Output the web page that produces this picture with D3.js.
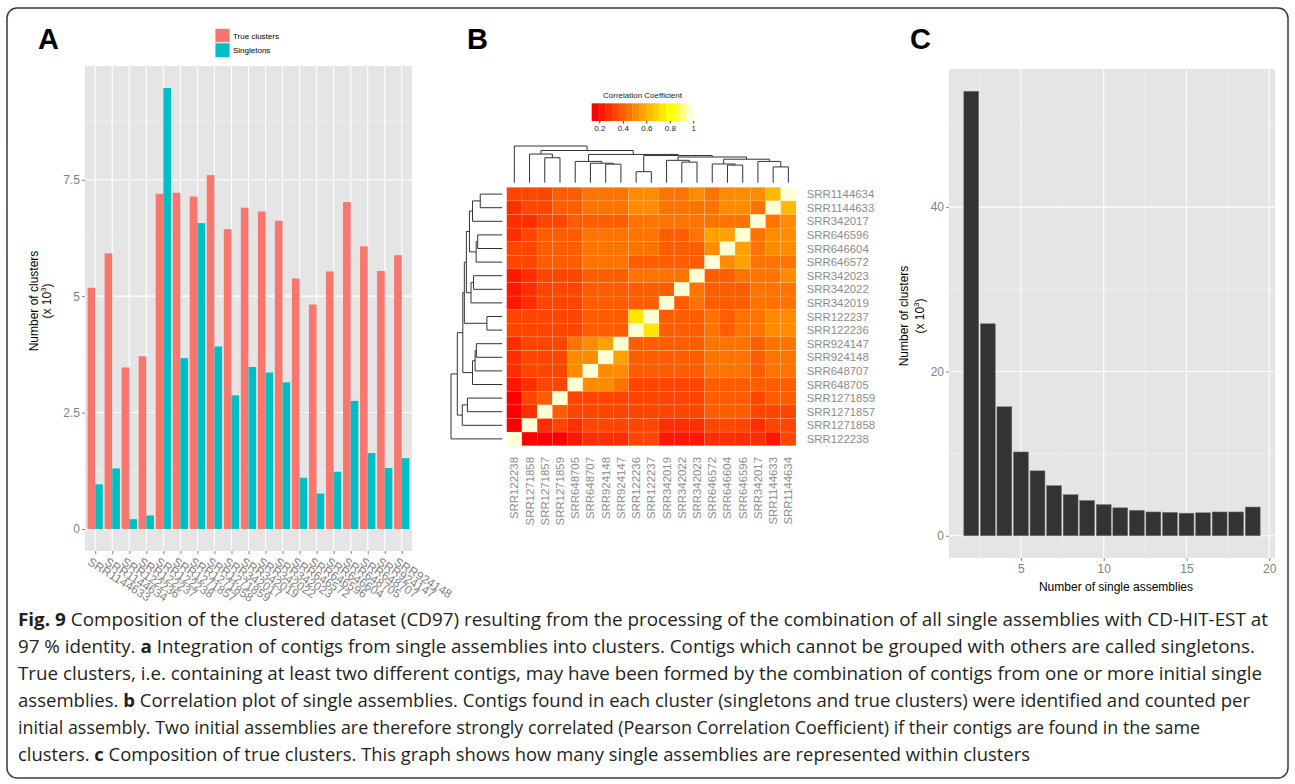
<!DOCTYPE html>
<html><head><meta charset="utf-8">
<script src="https://cdn.jsdelivr.net/npm/d3@7"></script>
<style>body{margin:0;background:#fff} svg{display:block} text{font-family:"Liberation Sans",Arial,sans-serif}</style>
</head><body><svg id="fig" width="1295" height="784"></svg>
<script>
// ---------------- DATA ----------------
// Panel A
const assemblies = ["SRR1144633","SRR1144634","SRR122236","SRR122237","SRR122238","SRR1271857","SRR1271858","SRR1271859","SRR342017","SRR342019","SRR342022","SRR342023","SRR646572","SRR646596","SRR646604","SRR648705","SRR648707","SRR924147","SRR924148"];
const trueClusters = [5.18,5.92,3.47,3.71,7.20,7.22,7.14,7.60,6.44,6.90,6.82,6.62,5.38,4.82,5.53,7.02,6.07,5.54,5.88];
const singletons   = [0.96,1.30,0.21,0.29,9.47,3.67,6.57,3.92,2.87,3.48,3.36,3.15,1.10,0.76,1.23,2.75,1.63,1.31,1.52];
const seriesNames = ["True clusters","Singletons"];
const yTicksA = [0,2.5,5,7.5];

// Panel B
const rowOrder = ["SRR1144634","SRR1144633","SRR342017","SRR646596","SRR646604","SRR646572","SRR342023","SRR342022","SRR342019","SRR122237","SRR122236","SRR924147","SRR924148","SRR648707","SRR648705","SRR1271859","SRR1271857","SRR1271858","SRR122238"];
const colOrder = ["SRR122238","SRR1271858","SRR1271857","SRR1271859","SRR648705","SRR648707","SRR924148","SRR924147","SRR122236","SRR122237","SRR342019","SRR342022","SRR342023","SRR646572","SRR646604","SRR646596","SRR342017","SRR1144633","SRR1144634"];
const corr = [
 [0.34,0.34,0.33,0.39,0.39,0.45,0.45,0.45,0.51,0.51,0.45,0.45,0.51,0.45,0.51,0.51,0.50,0.63,1],
 [0.28,0.33,0.34,0.39,0.39,0.45,0.45,0.45,0.51,0.51,0.45,0.45,0.46,0.45,0.50,0.51,0.45,1,0.63],
 [0.28,0.27,0.33,0.32,0.39,0.39,0.39,0.38,0.45,0.45,0.45,0.45,0.45,0.45,0.45,0.45,1,0.45,0.51],
 [0.29,0.34,0.39,0.39,0.39,0.45,0.45,0.45,0.45,0.45,0.39,0.39,0.45,0.57,0.57,1,0.45,0.51,0.51],
 [0.33,0.34,0.39,0.39,0.39,0.45,0.45,0.45,0.45,0.45,0.39,0.39,0.39,0.51,1,0.57,0.45,0.51,0.51],
 [0.33,0.34,0.39,0.39,0.39,0.45,0.45,0.45,0.39,0.39,0.39,0.39,0.39,1,0.51,0.57,0.45,0.45,0.45],
 [0.22,0.28,0.34,0.34,0.34,0.39,0.39,0.39,0.45,0.45,0.45,0.45,1,0.39,0.39,0.45,0.45,0.45,0.51],
 [0.22,0.28,0.34,0.34,0.34,0.39,0.39,0.39,0.39,0.39,0.39,1,0.45,0.39,0.39,0.39,0.45,0.45,0.45],
 [0.22,0.28,0.34,0.34,0.34,0.39,0.39,0.39,0.39,0.39,1,0.39,0.45,0.39,0.39,0.39,0.45,0.45,0.45],
 [0.34,0.34,0.34,0.34,0.34,0.39,0.39,0.39,0.74,1,0.39,0.39,0.39,0.45,0.39,0.45,0.45,0.51,0.51],
 [0.34,0.34,0.34,0.34,0.34,0.39,0.39,0.39,1,0.74,0.39,0.39,0.39,0.45,0.39,0.45,0.45,0.51,0.51],
 [0.28,0.34,0.34,0.34,0.45,0.51,0.57,1,0.39,0.39,0.39,0.39,0.39,0.45,0.45,0.45,0.39,0.45,0.45],
 [0.28,0.34,0.34,0.34,0.51,0.51,1,0.57,0.39,0.39,0.39,0.39,0.39,0.45,0.45,0.45,0.39,0.45,0.45],
 [0.28,0.34,0.34,0.34,0.51,1,0.51,0.51,0.39,0.39,0.39,0.39,0.39,0.45,0.45,0.45,0.39,0.45,0.45],
 [0.22,0.28,0.34,0.34,1,0.51,0.51,0.45,0.34,0.34,0.34,0.34,0.34,0.39,0.39,0.39,0.39,0.39,0.39],
 [0.16,0.34,0.39,1,0.34,0.34,0.34,0.34,0.34,0.34,0.34,0.34,0.34,0.39,0.39,0.39,0.34,0.39,0.39],
 [0.16,0.28,1,0.39,0.34,0.34,0.34,0.34,0.34,0.34,0.34,0.34,0.34,0.39,0.39,0.39,0.34,0.34,0.34],
 [0.16,1,0.28,0.34,0.28,0.34,0.34,0.34,0.34,0.34,0.28,0.28,0.28,0.34,0.34,0.34,0.28,0.34,0.34],
 [1,0.16,0.16,0.16,0.22,0.28,0.28,0.28,0.34,0.34,0.22,0.22,0.22,0.28,0.28,0.28,0.28,0.22,0.34]
];
// hierarchical merges: [left, right, height (relative to root)]
const dendroMerges = [
 ["SRR924148","SRR924147",0.505],
 ["SRR648707","m0",0.53],
 ["SRR648705","m1",0.58],
 ["SRR122236","SRR122237",0.30],
 ["SRR342022","SRR342023",0.56],
 ["SRR342019","m4",0.61],
 ["SRR646604","SRR646596",0.48],
 ["SRR646572","m6",0.51],
 ["SRR1144633","SRR1144634",0.43],
 ["SRR342017","m8",0.58],
 ["m7","m9",0.64],
 ["m5","m10",0.70],
 ["m3","m11",0.74],
 ["m2","m12",0.77],
 ["SRR1271857","SRR1271859",0.68],
 ["SRR1271858","m14",0.78],
 ["m15","m13",0.877],
 ["SRR122238","m16",1.0]
];
const heatColors = ["#FF0000","#FF1700","#FF2E00","#FF4600","#FF5D00","#FF7400","#FF8B00","#FFA200","#FFB900","#FFD100","#FFE800","#FFFF00","#FFFF2A","#FFFF80","#FFFFD5"];
const keyRange = [0.135,1];
const keyTicks = [0.2,0.4,0.6,0.8,1];

// Panel C
const nAssemblies = [2,3,4,5,6,7,8,9,10,11,12,13,14,15,16,17,18,19];
const nClusters = [54.1,25.8,15.7,10.2,7.9,6.1,5.0,4.3,3.8,3.4,3.1,2.9,2.85,2.75,2.8,2.9,2.9,3.5];
const xTicksC = [5,10,15,20];
const yTicksC = [0,20,40];

const captionLines = [
 [["Fig. 9",true],[" Composition of the clustered dataset (CD97) resulting from the processing of the combination of all single assemblies with CD-HIT-EST at",false]],
 [["97 % identity. ",false],["a",true],[" Integration of contigs from single assemblies into clusters. Contigs which cannot be grouped with others are called singletons.",false]],
 [["True clusters, i.e. containing at least two different contigs, may have been formed by the combination of contigs from one or more initial single",false]],
 [["assemblies. ",false],["b",true],[" Correlation plot of single assemblies. Contigs found in each cluster (singletons and true clusters) were identified and counted per",false]],
 [["initial assembly. Two initial assemblies are therefore strongly correlated (Pearson Correlation Coefficient) if their contigs are found in the same",false]],
 [["clusters. ",false],["c",true],[" Composition of true clusters. This graph shows how many single assemblies are represented within clusters",false]]
];
const captionWidths = [1250,1237,1244,1232,1182,1012];

// ---------------- DRAW ----------------
const svg = d3.select("#fig");
svg.append("rect").attr("x",7).attr("y",8).attr("width",1281).attr("height",770).attr("rx",10)
  .attr("fill","none").attr("stroke","#3a3a3a").attr("stroke-width",1.5);

const GRAY_TXT = "#7f7f7f", PANEL = "#E5E5E5", MINOR = "#F2F2F2";
function letter(t,x,y){svg.append("text").attr("x",x).attr("y",y).attr("font-size",29).attr("font-weight","bold").attr("fill","#000").text(t);}
letter("A",38,49); letter("B",467,49); letter("C",910,49);

// ---- Panel A ----
{
  const L=85,R=412,T=66,B=551;
  const x = d3.scalePoint().domain(assemblies).range([L,R]).padding(0.6);
  const step = x.step(), bw = step*0.45;
  const y = d3.scaleLinear().domain([-0.4735,9.9435]).range([B,T]);
  const g = svg.append("g");
  g.append("rect").attr("x",L).attr("y",T).attr("width",R-L).attr("height",B-T).attr("fill",PANEL);
  const minor = yTicksA.map(d=>d+1.25);
  g.selectAll(".mn").data(minor).join("line").attr("x1",L).attr("x2",R).attr("y1",d=>y(d)).attr("y2",d=>y(d)).attr("stroke",MINOR).attr("stroke-width",0.6);
  g.selectAll(".mj").data(yTicksA).join("line").attr("x1",L).attr("x2",R).attr("y1",d=>y(d)).attr("y2",d=>y(d)).attr("stroke","#fff").attr("stroke-width",1.1);
  g.selectAll(".vx").data(assemblies).join("line").attr("x1",d=>x(d)).attr("x2",d=>x(d)).attr("y1",T).attr("y2",B).attr("stroke","#fff").attr("stroke-width",1.1);
  g.selectAll(".bt").data(assemblies).join("rect").attr("x",d=>x(d)-bw).attr("width",bw)
    .attr("y",(d,i)=>y(trueClusters[i])).attr("height",(d,i)=>y(0)-y(trueClusters[i])).attr("fill","#F8766D");
  g.selectAll(".bs").data(assemblies).join("rect").attr("x",d=>x(d)).attr("width",bw)
    .attr("y",(d,i)=>y(singletons[i])).attr("height",(d,i)=>y(0)-y(singletons[i])).attr("fill","#00BFC4");
  const ay = g.append("g").attr("transform",`translate(${L},0)`).call(d3.axisLeft(y).tickValues(yTicksA).tickSize(3).tickPadding(2).tickFormat(d3.format("")));
  ay.select(".domain").remove();
  ay.selectAll("line").attr("stroke",GRAY_TXT);
  ay.selectAll("text").attr("fill",GRAY_TXT).attr("font-size",12).attr("font-family","Liberation Sans, Arial");
  const ax = g.append("g").attr("transform",`translate(0,${B})`).call(d3.axisBottom(x).tickSize(3));
  ax.select(".domain").remove();
  ax.selectAll("line").attr("stroke",GRAY_TXT);
  ax.selectAll("text").attr("fill",GRAY_TXT).attr("font-size",12).attr("font-family","Liberation Sans, Arial")
    .attr("y",null).attr("dy",null).attr("text-anchor","start").attr("transform","translate(-9,13) rotate(32)");
  const ty = g.append("text").attr("transform","translate(38,301) rotate(-90)").attr("text-anchor","middle").attr("font-size",12).attr("fill","#000");
  ty.text("Number of clusters");
  const ty2 = g.append("text").attr("transform","translate(51,301) rotate(-90)").attr("text-anchor","middle").attr("font-size",12).attr("fill","#000");
  ty2.append("tspan").text("(x 10");
  ty2.append("tspan").attr("font-size",8).attr("dy",-5).text("3");
  ty2.append("tspan").attr("dy",5).text(")");
  // legend
  const lg = g.append("g");
  const lcol = ["#F8766D","#00BFC4"];
  seriesNames.forEach((s,i)=>{
    lg.append("rect").attr("x",215).attr("y",28.3+i*14.6).attr("width",15).attr("height",14.6).attr("fill",lcol[i]).attr("stroke","#fff").attr("stroke-width",0.8);
    lg.append("text").attr("x",233).attr("y",38.5+i*14.6).attr("font-size",8).attr("fill","#000").text(s);
  });
}

// ---- Panel B ----
{
  const L=506.7,R=796,T=187.3,B=445.7;
  const xb = d3.scaleBand().domain(colOrder).range([L,R]);
  const yb = d3.scaleBand().domain(rowOrder).range([T,B]);
  const color = d3.scaleQuantize().domain(keyRange).range(heatColors);
  const g = svg.append("g");
  const cells = [];
  rowOrder.forEach((r,i)=>colOrder.forEach((c,j)=>cells.push({r,c,v:corr[i][j]})));
  g.selectAll(".cell").data(cells).join("rect").attr("x",d=>xb(d.c)).attr("y",d=>yb(d.r))
    .attr("width",xb.bandwidth()).attr("height",yb.bandwidth()).attr("fill",d=>color(d.v))
    .attr("stroke","rgba(255,255,255,0.22)").attr("stroke-width",0.5);
  // row labels
  g.selectAll(".rl").data(rowOrder).join("text").attr("x",R+10.7).attr("y",d=>yb(d)+yb.bandwidth()/2+4)
    .attr("font-size",11.4).attr("fill","#8c8c8c").text(d=>d);
  // col labels
  g.selectAll(".cl").data(colOrder).join("text")
    .attr("transform",d=>`translate(${xb(d)+xb.bandwidth()/2+4},457) rotate(-90)`).attr("text-anchor","end")
    .attr("font-size",11.4).attr("fill","#8c8c8c").text(d=>d);
  // dendrograms
  function layout(posOf){
    const pos={}, h={};
    const P = n => (n in pos)?pos[n]:posOf(n);
    const H = n => (n in h)?h[n]:0;
    const segs=[];
    dendroMerges.forEach((m,i)=>{
      const id="m"+i, a=m[0], b=m[1], hh=m[2];
      segs.push([[P(a),H(a)],[P(a),hh],[P(b),hh],[P(b),H(b)]]);
      pos[id]=(P(a)+P(b))/2; h[id]=hh;
    });
    return segs;
  }
  const colSegs = layout(n=>xb(n)+xb.bandwidth()/2);
  const yD = d3.scaleLinear().domain([0,1]).range([182.7,146]);
  g.selectAll(".cd").data(colSegs).join("path")
    .attr("d",s=>d3.line()(s.map(p=>[p[0],yD(p[1])]))).attr("fill","none").attr("stroke","#333").attr("stroke-width",1);
  const rowSegs = layout(n=>yb(n)+yb.bandwidth()/2);
  const xD = d3.scaleLinear().domain([0,1]).range([502.3,451]);
  g.selectAll(".rd").data(rowSegs).join("path")
    .attr("d",s=>d3.line()(s.map(p=>[xD(p[1]),p[0]]))).attr("fill","none").attr("stroke","#333").attr("stroke-width",1);
  // color key
  const kx = d3.scaleLinear().domain(keyRange).range([591.7,693.3]);
  const bins = heatColors.map((c,i)=>({c,a:keyRange[0]+(keyRange[1]-keyRange[0])*i/heatColors.length,b:keyRange[0]+(keyRange[1]-keyRange[0])*(i+1)/heatColors.length}));
  g.selectAll(".kb").data(bins).join("rect").attr("x",d=>kx(d.a)).attr("width",d=>kx(d.b)-kx(d.a)+0.3)
    .attr("y",103.3).attr("height",17.7).attr("fill",d=>d.c);
  const ka = g.append("g").attr("transform","translate(0,121)").call(d3.axisBottom(kx).tickValues(keyTicks).tickSize(2.5).tickPadding(2).tickFormat(d3.format("")));
  ka.select(".domain").remove();
  ka.selectAll("line").attr("stroke","#333");
  ka.selectAll("text").attr("font-size",8).attr("fill","#222").attr("font-family","Liberation Sans, Arial");
  g.append("text").attr("x",642.5).attr("y",98).attr("text-anchor","middle").attr("font-size",8).attr("fill","#222").text("Correlation Coefficient");
}

// ---- Panel C ----
{
  const L=949,R=1275,T=69,B=558;
  const x = d3.scaleLinear().domain([0.655,20.345]).range([L,R]);
  const y = d3.scaleLinear().domain([-2.705,56.805]).range([B,T]);
  const g = svg.append("g");
  g.append("rect").attr("x",L).attr("y",T).attr("width",R-L).attr("height",B-T).attr("fill",PANEL);
  const minorX = [2.5,7.5,12.5,17.5], minorY=[10,30,50];
  g.selectAll(".mnx").data(minorX).join("line").attr("x1",d=>x(d)).attr("x2",d=>x(d)).attr("y1",T).attr("y2",B).attr("stroke",MINOR).attr("stroke-width",0.6);
  g.selectAll(".mny").data(minorY).join("line").attr("x1",L).attr("x2",R).attr("y1",d=>y(d)).attr("y2",d=>y(d)).attr("stroke",MINOR).attr("stroke-width",0.6);
  g.selectAll(".mjx").data(xTicksC).join("line").attr("x1",d=>x(d)).attr("x2",d=>x(d)).attr("y1",T).attr("y2",B).attr("stroke","#fff").attr("stroke-width",1.1);
  g.selectAll(".mjy").data(yTicksC).join("line").attr("x1",L).attr("x2",R).attr("y1",d=>y(d)).attr("y2",d=>y(d)).attr("stroke","#fff").attr("stroke-width",1.1);
  g.selectAll(".bar").data(nAssemblies).join("rect").attr("x",d=>x(d-0.45)).attr("width",x(0.9)-x(0))
    .attr("y",(d,i)=>y(nClusters[i])).attr("height",(d,i)=>y(0)-y(nClusters[i]))
    .attr("fill","#333333").attr("stroke","#777").attr("stroke-width",0.5);
  const ay = g.append("g").attr("transform",`translate(${L},0)`).call(d3.axisLeft(y).tickValues(yTicksC).tickSize(3).tickPadding(2));
  ay.select(".domain").remove(); ay.selectAll("line").attr("stroke",GRAY_TXT);
  ay.selectAll("text").attr("fill",GRAY_TXT).attr("font-size",12).attr("font-family","Liberation Sans, Arial");
  const ax = g.append("g").attr("transform",`translate(0,${B})`).call(d3.axisBottom(x).tickValues(xTicksC).tickSize(3).tickPadding(3));
  ax.select(".domain").remove(); ax.selectAll("line").attr("stroke",GRAY_TXT);
  ax.selectAll("text").attr("fill",GRAY_TXT).attr("font-size",12).attr("font-family","Liberation Sans, Arial");
  g.append("text").attr("x",1116).attr("y",591).attr("text-anchor","middle").attr("font-size",12).attr("fill","#000").text("Number of single assemblies");
  g.append("text").attr("transform","translate(908,316) rotate(-90)").attr("text-anchor","middle").attr("font-size",12).attr("fill","#000").text("Number of clusters");
  const t2 = g.append("text").attr("transform","translate(924,316) rotate(-90)").attr("text-anchor","middle").attr("font-size",12).attr("fill","#000");
  t2.append("tspan").text("(x 10"); t2.append("tspan").attr("font-size",8).attr("dy",-5).text("3"); t2.append("tspan").attr("dy",5).text(")");
}

// ---- Caption ----
captionLines.forEach((segs,i)=>{
  const t = svg.append("text").attr("x",18).attr("y",626+i*27).attr("font-size",17.5)
    .attr("fill","#231f20").style("font-family","'Open Sans', 'Liberation Sans', sans-serif")
    .attr("textLength",captionWidths[i]).attr("lengthAdjust","spacingAndGlyphs");
  segs.forEach(s=>t.append("tspan").attr("font-weight",s[1]?"bold":"normal").text(s[0]));
});
</script></body></html>
